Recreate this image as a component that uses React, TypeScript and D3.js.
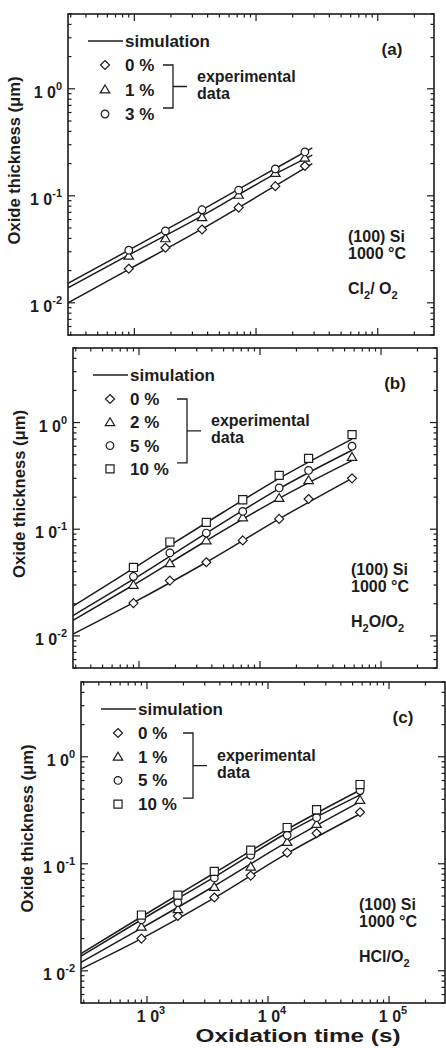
import React from 'react';
import * as d3 from 'd3';

const W = 446;
const H = 1048;

// axis ranges shared by the three panels
const xDomain: [number, number] = [285, 290000];
const yDomain: [number, number] = [0.005, 5];
const xMajor = [1e3, 1e4, 1e5];
const yMajor = [1e-2, 1e-1, 1e0];

// oxidation times of the measured points (s)
const timesA = [900, 1800, 3600, 7200, 14400, 25200];
const timesBC = [900, 1800, 3600, 7200, 14400, 25200, 57600];

// (a) Cl2/O2
const clLabels = ['0 %', '1 %', '3 %'];
const clData = [
  [0.0208, 0.0327, 0.0484, 0.0776, 0.123, 0.19],
  [0.0275, 0.04, 0.063, 0.102, 0.163, 0.227],
  [0.031, 0.047, 0.074, 0.113, 0.178, 0.257],
];
const clSimTimes = [285, 900, 3600, 14400, 29000];
const clSim = [
  [0.01, 0.0205, 0.049, 0.124, 0.2],
  [0.0138, 0.028, 0.065, 0.16, 0.24],
  [0.0152, 0.031, 0.074, 0.18, 0.28],
];

// (b) H2O/O2
const h2oLabels = ['0 %', '2 %', '5 %', '10 %'];
const h2oData = [
  [0.0203, 0.033, 0.049, 0.0785, 0.125, 0.192, 0.3],
  [0.03, 0.048, 0.0785, 0.129, 0.196, 0.288, 0.476],
  [0.036, 0.06, 0.092, 0.147, 0.244, 0.356, 0.6],
  [0.0438, 0.0758, 0.116, 0.189, 0.32, 0.462, 0.77],
];
const h2oSimTimes = [285, 900, 3600, 14400, 57600];
const h2oSim = [
  [0.0104, 0.0205, 0.049, 0.125, 0.3],
  [0.014, 0.03, 0.078, 0.195, 0.44],
  [0.0155, 0.034, 0.092, 0.24, 0.55],
  [0.019, 0.043, 0.115, 0.3, 0.7],
];

// (c) HCl/O2
const hclLabels = ['0 %', '1 %', '5 %', '10 %'];
const hclData = [
  [0.02, 0.0325, 0.0484, 0.0776, 0.127, 0.193, 0.303],
  [0.0258, 0.0376, 0.0607, 0.094, 0.16, 0.235, 0.395],
  [0.03, 0.0434, 0.0738, 0.12, 0.185, 0.27, 0.484],
  [0.0332, 0.051, 0.085, 0.134, 0.218, 0.32, 0.55],
];
const hclSimTimes = [285, 900, 3600, 14400, 60000];
const hclSim = [
  [0.0104, 0.02, 0.048, 0.125, 0.3],
  [0.012, 0.025, 0.062, 0.16, 0.39],
  [0.0137, 0.03, 0.075, 0.195, 0.45],
  [0.0145, 0.032, 0.082, 0.21, 0.5],
];

const INK = '#1c1c1c';
const FONT = '"Liberation Sans", Arial, Helvetica, sans-serif';

type Box = { x0: number; y0: number; x1: number; y1: number };

const markerPath = (kind: number, s: number) => {
  if (kind === 0) return `M0,${-s}L${s},0L0,${s}L${-s},0Z`;
  if (kind === 1) return `M0,${-s}L${s * 1.05},${s * 0.75}L${-s * 1.05},${s * 0.75}Z`;
  if (kind === 3) return `M${-s * 0.9},${-s * 0.9}H${s * 0.9}V${s * 0.9}H${-s * 0.9}Z`;
  return d3.symbol(d3.symbolCircle, Math.PI * (s * 0.85) ** 2)() as string;
};

const Pow10 = ({ x, y, exp, anchor }: { x: number; y: number; exp: number; anchor: string }) => (
  <text x={x} y={y} textAnchor={anchor} fontSize={16} fontWeight="bold" fill={INK}>
    <tspan>1 0</tspan>
    <tspan dy={-8} fontSize={11}>{exp < 0 ? `-${-exp}` : `${exp}`}</tspan>
  </text>
);

const Panel = ({
  id, box, times, data, simTimes, sim, labels, letter, gas, gap, brX, xLabels,
}: {
  id: string; box: Box; times: number[]; data: number[][]; simTimes: number[]; sim: number[][];
  labels: string[]; letter: string; gas: [string, string, string, string]; gap: number; brX: number;
  xLabels: boolean;
}) => {
  const { x0, y0, x1, y1 } = box;
  const x = d3.scaleLog().domain(xDomain).range([x0, x1]);
  const y = d3.scaleLog().domain(yDomain).range([y1, y0]);

  const xTicks = x.ticks().filter((t) => t >= xDomain[0] && t <= xDomain[1]);
  const yTicks = y.ticks().filter((t) => t >= yDomain[0] && t <= yDomain[1]);
  const isMajor = (t: number) => Math.abs(Math.log10(t) - Math.round(Math.log10(t))) < 1e-6;

  const line = d3.line<number>()
    .x((_, i) => x(simTimes[i]))
    .y((v) => y(v))
    .curve(d3.curveMonotoneX);

  const legX = x0 + 37;
  const legY = y0 + 51;
  const mid = (legY + legY + gap * (labels.length - 1) - 6) / 2;

  return (
    <g>
      <defs>
        <clipPath id={`clip-${id}`}>
          <rect x={x0} y={y0} width={x1 - x0} height={y1 - y0} />
        </clipPath>
      </defs>
      <rect x={x0} y={y0} width={x1 - x0} height={y1 - y0} fill="none" stroke={INK} strokeWidth={1.6} />

      {/* inward ticks on all four sides */}
      {xTicks.map((t) => {
        const len = isMajor(t) ? 7 : 3.5;
        return (
          <g key={`x${t}`} stroke={INK} strokeWidth={1.2}>
            <line x1={x(t)} x2={x(t)} y1={y1} y2={y1 - len} />
            <line x1={x(t)} x2={x(t)} y1={y0} y2={y0 + len} />
          </g>
        );
      })}
      {yTicks.map((t) => {
        const len = isMajor(t) ? 7 : 3.5;
        return (
          <g key={`y${t}`} stroke={INK} strokeWidth={1.2}>
            <line x1={x0} x2={x0 + len} y1={y(t)} y2={y(t)} />
            <line x1={x1} x2={x1 - len} y1={y(t)} y2={y(t)} />
          </g>
        );
      })}

      {yMajor.map((t) => (
        <Pow10 key={`yl${t}`} x={x0 - 6} y={y(t) + 9} exp={Math.round(Math.log10(t))} anchor="end" />
      ))}
      {xLabels && xMajor.map((t) => (
        <Pow10 key={`xl${t}`} x={x(t) + 4} y={y1 + 19} exp={Math.round(Math.log10(t))} anchor="middle" />
      ))}

      <text
        transform={`translate(${x0 - 48},${(y0 + y1) / 2 - 14}) rotate(-90)`}
        textAnchor="middle" fontSize={17} fontWeight="bold" fill={INK}
        textLength={168} lengthAdjust="spacingAndGlyphs"
      >
        Oxide thickness (μm)
      </text>

      <g clipPath={`url(#clip-${id})`}>
        {sim.map((s, i) => (
          <path key={`s${i}`} d={line(s) || ''} fill="none" stroke={INK} strokeWidth={1.5} />
        ))}
      </g>
      {data.map((ser, i) =>
        ser.map((v, j) => (
          <path key={`p${i}-${j}`} d={markerPath(i, 4.5)}
            transform={`translate(${x(times[j])},${y(v)})`}
            fill="white" stroke={INK} strokeWidth={1.2} />
        )),
      )}

      {/* legend */}
      <line x1={x0 + 20} x2={x0 + 55} y1={y0 + 27} y2={y0 + 27} stroke={INK} strokeWidth={1.5} />
      <text x={x0 + 57} y={y0 + 33} fontSize={17} fontWeight="bold" fill={INK}>simulation</text>
      {labels.map((l, i) => (
        <g key={`lg${i}`}>
          <path d={markerPath(i, 4.5)} transform={`translate(${legX},${legY + i * gap})`}
            fill="white" stroke={INK} strokeWidth={1.2} />
          <text x={x0 + 57} y={legY + i * gap + 6} fontSize={17} fontWeight="bold" fill={INK}>{l}</text>
        </g>
      ))}
      <path
        d={`M${x0 + brX - 10},${legY}H${x0 + brX}V${legY + gap * (labels.length - 1) - 6}H${x0 + brX - 10}M${x0 + brX},${mid}H${x0 + brX + 14}`}
        fill="none" stroke={INK} strokeWidth={1.3}
      />
      <text x={x0 + brX + 24} y={mid - 5} fontSize={16} fontWeight="bold" fill={INK}>experimental</text>
      <text x={x0 + brX + 24} y={mid + 12} fontSize={16} fontWeight="bold" fill={INK}>data</text>

      <text x={x1 - 42} y={y0 + 41} textAnchor="middle" fontSize={17} fontWeight="bold" fill={INK}>{letter}</text>
      <text x={x1 - 86} y={y1 - 93} fontSize={16} fontWeight="bold" fill={INK}>(100)  Si</text>
      <text x={x1 - 86} y={y1 - 76} fontSize={16} fontWeight="bold" fill={INK}>1000  °C</text>
      <text x={x1 - 86} y={y1 - 41} fontSize={16} fontWeight="bold" fill={INK} xmlSpace="preserve">
        <tspan>{gas[0]}</tspan>
        <tspan dy={5} fontSize={11}>{gas[1]}</tspan>
        <tspan dy={-5}>{gas[2]}</tspan>
        <tspan dy={5} fontSize={11}>{gas[3]}</tspan>
      </text>
    </g>
  );
};

export default function App() {
  return (
    <svg width={W} height={H} style={{ position: 'absolute', left: 0, top: 0, background: '#fff' }}
      fontFamily={FONT}>
      <rect width={W} height={H} fill="#fff" />
      <Panel id="a" box={{ x0: 68, y0: 14, x1: 434, y1: 335 }} times={timesA} data={clData}
        simTimes={clSimTimes} sim={clSim} labels={clLabels} letter="(a)" gas={['Cl', '2', '/ O', '2']}
        gap={24.5} brX={105} xLabels={false} />
      <Panel id="b" box={{ x0: 73, y0: 348, x1: 437, y1: 668 }} times={timesBC} data={h2oData}
        simTimes={h2oSimTimes} sim={h2oSim} labels={h2oLabels} letter="(b)" gas={['H', '2', 'O/O', '2']}
        gap={23.3} brX={114} xLabels={false} />
      <Panel id="c" box={{ x0: 81, y0: 682, x1: 445, y1: 1003 }} times={timesBC} data={hclData}
        simTimes={hclSimTimes} sim={hclSim} labels={hclLabels} letter="(c)" gas={['HCl/O', '2', '', '']}
        gap={23.7} brX={112} xLabels={true} />
      <text x={298} y={1042} textAnchor="middle" fontSize={18} fontWeight="bold" fill={INK}
        textLength={205} lengthAdjust="spacingAndGlyphs">
        Oxidation time (s)
      </text>
    </svg>
  );
}
